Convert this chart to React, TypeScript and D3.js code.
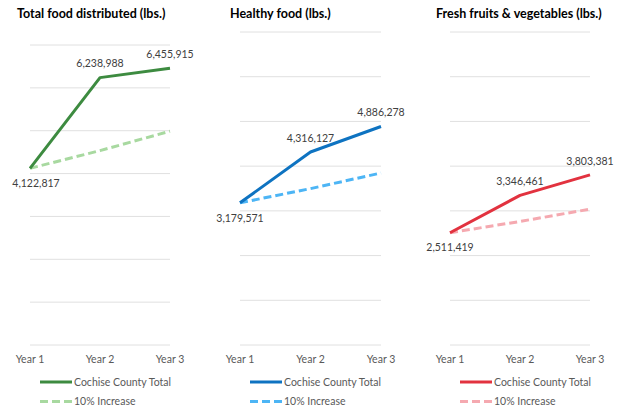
import React from "react";
import * as d3 from "d3";

const years = ["Year 1", "Year 2", "Year 3"];
const yTicks = [0, 1, 2, 3, 4, 5, 6, 7].map((d) => d * 1000000);

const titles = [
  "Total food distributed (lbs.)",
  "Healthy food (lbs.)",
  "Fresh fruits & vegetables (lbs.)",
];

const totalFood = [4122817, 6238988, 6455915];
const totalFoodTarget = [4122817, 4535099, 4988609];
const healthyFood = [3179571, 4316127, 4886278];
const healthyFoodTarget = [3179571, 3497528, 3847281];
const freshProduce = [2511419, 3346461, 3803381];
const freshProduceTarget = [2511419, 2762561, 3038817];

const legendLabels = ["Cochise County Total", "10% Increase"];

// panel layout (pixels inside the 618x410 svg)
const panels = [
  { title: titles[0], actual: totalFood, target: totalFoodTarget, left: 30, right: 170, top: 45, titleX: 17, minLabelX: 36, color: "#3d8b40", light: "#a8d9a0" },
  { title: titles[1], actual: healthyFood, target: healthyFoodTarget, left: 240, right: 381, top: 32, titleX: 230, minLabelX: 0, color: "#0e73c1", light: "#4db5f5" },
  { title: titles[2], actual: freshProduce, target: freshProduceTarget, left: 450, right: 590, top: 32, titleX: 436, minLabelX: 0, color: "#e2323f", light: "#f5a9b0" },
];

const bottom = 345;
const font = "'Segoe UI', Lato, 'Open Sans', sans-serif";
const fmt = d3.format(",");

const Panel = ({ p }) => {
  const x = d3.scalePoint().domain(years).range([p.left, p.right]);
  const y = d3.scaleLinear().domain([0, 7000000]).range([bottom, p.top]);
  const line = d3
    .line<number>()
    .x((d, i) => x(years[i]))
    .y((d) => y(d));

  return (
    <g>
      <text x={p.titleX} y={18} fontSize={12.5} fontWeight="bold" fill="#000" fontFamily={font}>
        {p.title}
      </text>
      {yTicks.map((t) => (
        <line key={t} x1={p.left} x2={p.right} y1={y(t)} y2={y(t)} stroke="#e0e0e0" strokeWidth={1} />
      ))}
      <path d={line(p.target)} fill="none" stroke={p.light} strokeWidth={3} strokeDasharray="8,4" />
      <path d={line(p.actual)} fill="none" stroke={p.color} strokeWidth={3} strokeLinejoin="round" />
      {p.actual.map((v, i) => (
        <text
          key={i}
          x={Math.max(x(years[i]), p.minLabelX)}
          y={i === 0 ? y(v) + 15 : y(v) - 14}
          dy="0.35em"
          textAnchor="middle"
          fontSize={10.5}
          fill="#404040"
          fontFamily={font}
        >
          {fmt(v)}
        </text>
      ))}
      {years.map((yr) => (
        <text key={yr} x={x(yr)} y={359} dy="0.35em" textAnchor="middle" fontSize={10.5} fill="#595959" fontFamily={font}>
          {yr}
        </text>
      ))}
      <line x1={p.left + 10} x2={p.left + 42} y1={382} y2={382} stroke={p.color} strokeWidth={3} />
      <text x={p.left + 44} y={382} dy="0.35em" fontSize={10.5} fill="#595959" fontFamily={font}>
        {legendLabels[0]}
      </text>
      <line x1={p.left + 10} x2={p.left + 42} y1={401.5} y2={401.5} stroke={p.light} strokeWidth={3} strokeDasharray="8,4" />
      <text x={p.left + 44} y={401.5} dy="0.35em" fontSize={10.5} fill="#595959" fontFamily={font}>
        {legendLabels[1]}
      </text>
    </g>
  );
};

export default function App() {
  return (
    <svg width={618} height={410} style={{ position: "absolute", left: 0, top: 0, background: "#fff" }}>
      {panels.map((p, i) => (
        <Panel key={i} p={p} />
      ))}
    </svg>
  );
}
